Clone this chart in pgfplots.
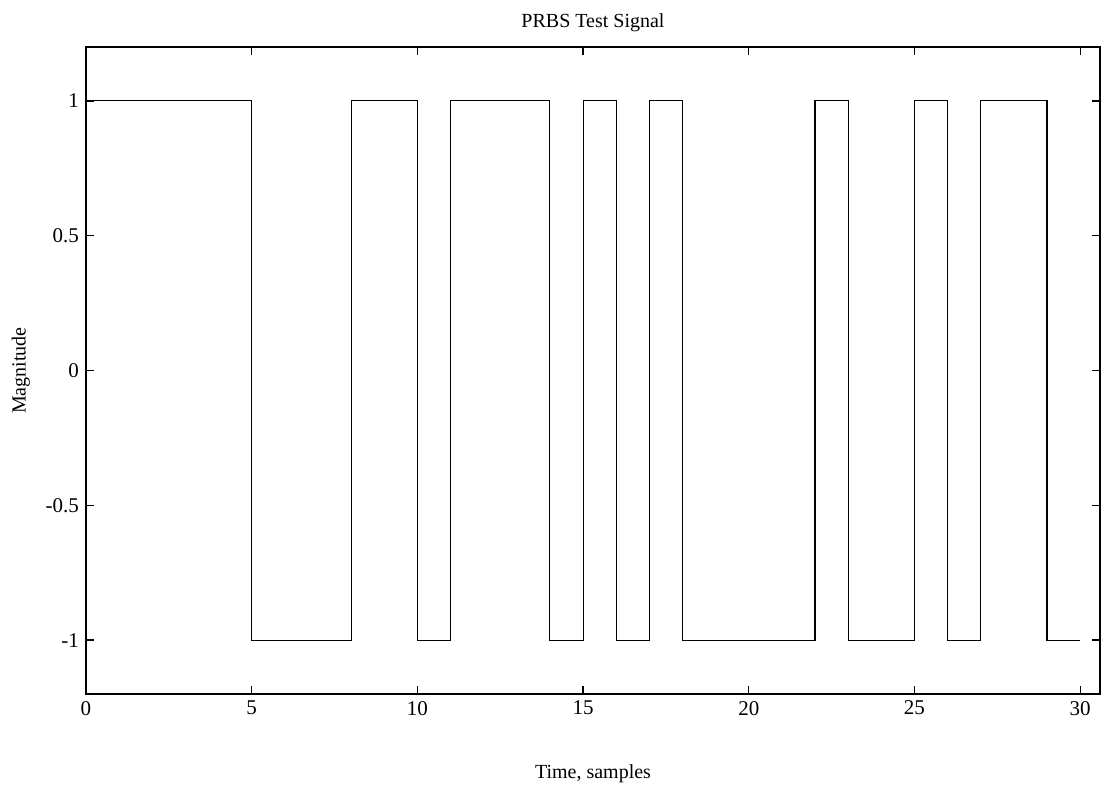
\documentclass[border=0pt]{standalone}
\usepackage{fontspec}
\setmainfont{Liberation Serif}
\usepackage{pgfplots}
\pgfplotsset{compat=1.18}

\begin{document}
\begin{tikzpicture}
  \begin{axis}[
    scale only axis,
    width=507pt, height=323.5pt,
    xmin=0, xmax=30.6,
    ymin=-1.2, ymax=1.2,
    xtick={0,5,10,15,20,25,30},
    ytick={-1,-0.5,0,0.5,1},
    yticklabels={-1,-0.5,0,0.5,1},
    tick align=inside,
    major tick length=4pt,
    tick style={black, line width=0.6pt},
    axis line style={line width=0.7pt},
    /pgf/number format/assume math mode=true,
    ticklabel style={font=\fontsize{10.5}{12}\selectfont},
    title={PRBS Test Signal},
    title style={font=\fontsize{10}{12}\selectfont, yshift=-2pt},
    xlabel={Time, samples},
    xlabel style={font=\fontsize{10}{12}\selectfont, yshift=-18pt},
    ylabel={Magnitude},
    ylabel style={font=\fontsize{10}{12}\selectfont, yshift=1pt},
    clip=false
  ]
    \addplot[const plot, black, line width=0.55pt] coordinates {
      (0,1)(5,-1)(8,1)(10,-1)(11,1)(14,-1)(15,1)(16,-1)(17,1)(18,-1)
      (22,1)(23,-1)(25,1)(26,-1)(27,1)(29,-1)(30,-1)
    };
  \end{axis}
  \pgfresetboundingbox
  \path (current axis.south west) ++(-43pt,-49.5pt) rectangle ([xshift=5.5pt,yshift=23.5pt]current axis.north east);
\end{tikzpicture}
\end{document}
